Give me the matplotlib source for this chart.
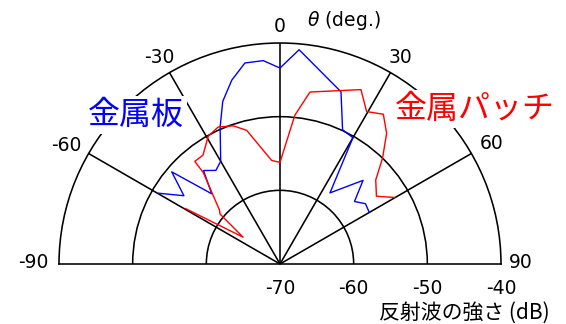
import numpy as np
import matplotlib
matplotlib.use("Agg")
import matplotlib.pyplot as plt
from matplotlib import transforms

# ---- data (angle in degrees, level in dB) ----
plate_theta = [-59.8, -54.6, -49.6, -44.2, -39.3, -34.4, -30.0, -23.6, -19.4, -14.7,
               -9.9, -4.7, 0.0, 5.1, 19.5, 25.0, 30.0, 35.1, 44.8, 50.0, 54.8, 59.8]
plate_db = [-50.9, -54.0, -50.7, -56.7, -53.6, -54.6, -53.9, -49.7, -46.6, -44.2,
            -42.3, -42.3, -43.4, -40.8, -45.2, -49.9, -50.2, -58.2, -54.0, -56.8, -55.8, -56.0]

patch_theta = [-59.6, -54.0, -50.2, -48.3, -40.0, -39.7, -35.3, -29.3, -24.3, -18.7,
               -14.0, -4.6, 0.0, 5.7, 9.9, 24.9, 29.6, 34.6, 39.2, 44.1, 48.7, 54.9, 59.9]
patch_db = [-55.1, -63.8, -59.4, -59.0, -53.8, -51.9, -51.9, -50.1, -49.6, -50.2,
            -51.3, -55.9, -56.2, -49.7, -46.3, -43.9, -46.2, -45.3, -47.1, -50.0, -52.7, -54.0, -52.0]

theta_ticks = [-90, -60, -30, 0, 30, 60, 90]
theta_labels = ["-90", "-60", "-30", "0", "30", "60", "90"]
r_ticks = [-70, -60, -50, -40]
r_labels = ["-70", "-60", "-50", "-40"]
series_names = ["金属板", "金属パッチ"]
axis_label = "反射波の強さ (dB)"
theta_title = r"$\theta$ (deg.)"

W, H = 566, 324
fig = plt.figure(figsize=(W / 100, H / 100), dpi=100)
cx, cy, R = 280, 264, 221
# square box: the half-disc wedge is fitted into it and centred vertically
box_cy = cy - R / 2
ax = fig.add_axes([(cx - R) / W, (H - (box_cy + R)) / H, 2 * R / W, 2 * R / H],
                  projection="polar")
ax.set_theta_zero_location("N")
ax.set_theta_direction(-1)
ax.set_thetamin(-90)
ax.set_thetamax(90)
ax.set_rlim(-70, -40)

ax.set_thetagrids([-60, -30, 0, 30, 60], labels=[""] * 5)
ax.set_rgrids([-60, -50], labels=["", ""])
ax.grid(True, color="black", linewidth=1.15, linestyle="-")
for s in ax.spines.values():
    s.set_color("black")
    s.set_linewidth(1.15)
ax.tick_params(length=0)

ax.plot(np.deg2rad(plate_theta), plate_db, color="#0000ff", lw=1.0, zorder=3, clip_on=False)
ax.plot(np.deg2rad(patch_theta), patch_db, color="#ff0000", lw=1.0, zorder=3, clip_on=False)

num_font = dict(family="DejaVu Sans", fontsize=13.5)
# theta tick labels: offset (dx, dy) in pixels from outer-ring endpoint (y up)
offsets = {-90: (-26, 1), -60: (-22, 8), -30: (-10, 15), 0: (0, 16),
           30: (10, 15), 60: (20, 10), 90: (20, 1)}
for a, lab in zip(theta_ticks, theta_labels):
    dx, dy = offsets[a]
    tr = transforms.offset_copy(ax.transData, fig, x=dx, y=dy, units="dots")
    ax.text(np.deg2rad(a), -40, lab, transform=tr, ha="center", va="center",
            clip_on=False, **num_font)

tr = transforms.offset_copy(ax.transData, fig, x=64, y=22, units="dots")
ax.text(0, -40, theta_title, transform=tr, ha="center", va="center", clip_on=False, **num_font)

for r, lab in zip(r_ticks, r_labels):
    tr = transforms.offset_copy(ax.transData, fig, x=0, y=-25, units="dots")
    ax.text(np.deg2rad(90), r, lab, transform=tr, ha="center", va="center",
            clip_on=False, **num_font)

fig.text(464 / W, 1 - 312.5 / H, axis_label, ha="center", va="center",
         family=["Noto Sans CJK JP", "DejaVu Sans"], fontsize=15)

box = dict(facecolor="white", edgecolor="none", boxstyle="square,pad=0.1")
fig.text(136 / W, 1 - 115 / H, series_names[0], color="#0000ff", ha="center", va="center",
         family=["Noto Sans CJK JP"], fontsize=23, bbox=box, zorder=10)
fig.text(475 / W, 1 - 109 / H, series_names[1], color="#ff0000", ha="center", va="center",
         family=["Noto Sans CJK JP"], fontsize=23, bbox=box, zorder=10)

fig.savefig("out.png", dpi=100, facecolor="white")
